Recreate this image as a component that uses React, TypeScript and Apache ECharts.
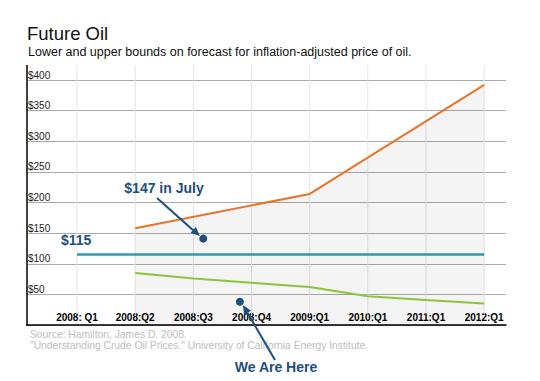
import React, { useEffect, useRef } from "react";
import * as echarts from "echarts";

const categories = ["2008: Q1", "2008:Q2", "2008:Q3", "2008:Q4", "2009:Q1", "2010:Q1", "2011:Q1", "2012:Q1"];
const upperBound: (number | null)[] = [null, 158, null, null, 214, null, null, 392];
const lowerBound: (number | null)[] = [null, 85, 76, 69, 62, 47, 41, 35];
const currentPrice: (number | null)[] = [115, 115, 115, 115, 115, 115, 115, 115];
const markerX = [2.17, 2.8];
const markerY = [141, 38];
const yTicks = [50, 100, 150, 200, 250, 300, 350, 400];

const toPairs = (arr: (number | null)[]) =>
  arr.map((v, i) => (v == null ? null : [i, v])).filter((p) => p !== null) as number[][];

export default function App() {
  const ref = useRef<HTMLDivElement>(null);
  useEffect(() => {
    document.body.style.margin = "0";
    const chart = echarts.init(ref.current!, null, { renderer: "svg" });
    const font = "Arial, 'Liberation Sans', sans-serif";
    const navy = "#1b4f80";
    const idx = categories.map((_, i) => i);
    chart.setOption({
      animation: false,
      textStyle: { fontFamily: font },
      grid: { left: 27, right: 34, top: 80, bottom: 56 },
      xAxis: {
        type: "value",
        min: -0.86,
        max: 7.375,
        axisLine: { show: true, lineStyle: { color: "#000", width: 1.5 } },
        axisTick: { show: false },
        splitLine: { show: false },
        axisLabel: {
          inside: true,
          margin: 3,
          customValues: idx,
          formatter: (v: number) => categories[Math.round(v)] ?? "",
          color: "#000",
          fontSize: 10,
          fontWeight: "bold",
          fontFamily: font,
        },
      },
      yAxis: {
        type: "value",
        min: 0,
        max: 400,
        interval: 50,
        axisLine: { show: false },
        axisTick: { show: false },
        splitLine: { show: true, lineStyle: { color: "#aaaaaa", width: 1 } },
        axisLabel: {
          inside: true,
          margin: 1,
          verticalAlign: "bottom",
          showMinLabel: false,
          color: "#222",
          fontSize: 10,
          fontFamily: font,
          formatter: (v: number) => (yTicks.includes(v) ? "$" + v : ""),
        },
      },
      series: [
        {
          type: "custom",
          clip: false,
          silent: true,
          z: 1,
          data: idx.map((i) => [i]),
          renderItem: (params: any, api: any) => {
            const b = api.coord([api.value(0), 0]);
            const t = api.coord([api.value(0), 400]);
            return {
              type: "line",
              shape: { x1: b[0], y1: b[1] - 11, x2: b[0], y2: t[1] - 15 },
              style: { stroke: "#e4e4e4", lineWidth: 1 },
            };
          },
        },
        {
          type: "line",
          data: toPairs(upperBound),
          symbol: "none",
          z: 3,
          lineStyle: { color: "#e8742a", width: 2 },
          areaStyle: { color: "rgba(0,0,0,0.06)", origin: "start" },
        },
        {
          type: "line",
          data: toPairs(lowerBound),
          symbol: "none",
          z: 3,
          lineStyle: { color: "#8cc43c", width: 2 },
        },
        {
          type: "line",
          data: toPairs(currentPrice),
          symbol: "none",
          z: 4,
          lineStyle: { color: "#2b9ab3", width: 2.5 },
        },
        {
          type: "scatter",
          data: markerX.map((x, i) => [x, markerY[i]]),
          symbolSize: 8,
          z: 6,
          itemStyle: { color: navy, opacity: 1 },
        },
      ],
      graphic: [
        { type: "line", shape: { x1: 27, y1: 65, x2: 27, y2: 326 }, style: { stroke: "#000", lineWidth: 1.5 }, z: 10 },
        {
          type: "text", x: 27, y: 33,
          style: { text: "Future Oil", fontSize: 18.5, fontFamily: font, fill: "#111", textVerticalAlign: "middle" },
        },
        {
          type: "text", x: 28, y: 52,
          style: {
            text: "Lower and upper bounds on forecast for inflation-adjusted price of oil.",
            fontSize: 12.5, fontFamily: font, fill: "#111", textVerticalAlign: "middle",
          },
        },
        {
          type: "text", x: 30, y: 334,
          style: { text: "Source: Hamilton, James D. 2008.", fontSize: 10.3, fontFamily: font, fill: "#bdbdbd", textVerticalAlign: "middle" },
        },
        {
          type: "text", x: 30, y: 345.5,
          style: {
            text: "\"Understanding Crude Oil Prices.\" University of California Energy Institute.",
            fontSize: 10.3, fontFamily: font, fill: "#bdbdbd", textVerticalAlign: "middle",
          },
        },
        {
          type: "text", x: 164, y: 188, z: 10,
          style: { text: "$147 in July", fontSize: 14, fontWeight: "bold", fontFamily: font, fill: navy, textAlign: "center", textVerticalAlign: "middle" },
        },
        {
          type: "text", x: 61, y: 240, z: 10,
          style: { text: "$115", fontSize: 14, fontWeight: "bold", fontFamily: font, fill: navy, textVerticalAlign: "middle" },
        },
        {
          type: "text", x: 276, y: 367, z: 10,
          style: { text: "We Are Here", fontSize: 14, fontWeight: "bold", fontFamily: font, fill: navy, textAlign: "center", textVerticalAlign: "middle" },
        },
        { type: "line", z: 10, shape: { x1: 157, y1: 198, x2: 194, y2: 231 }, style: { stroke: navy, lineWidth: 2 } },
        { type: "polygon", z: 10, shape: { points: [[200, 236], [190.6, 233], [195.9, 227]] }, style: { fill: navy } },
        { type: "line", z: 10, shape: { x1: 275, y1: 360, x2: 247.5, y2: 312.8 }, style: { stroke: navy, lineWidth: 2 } },
        { type: "polygon", z: 10, shape: { points: [[243, 305], [251, 310.8], [244, 314.8]] }, style: { fill: navy } },
      ],
    });
    return () => chart.dispose();
  }, []);
  return <div ref={ref} style={{ width: 540, height: 381 }} />;
}
